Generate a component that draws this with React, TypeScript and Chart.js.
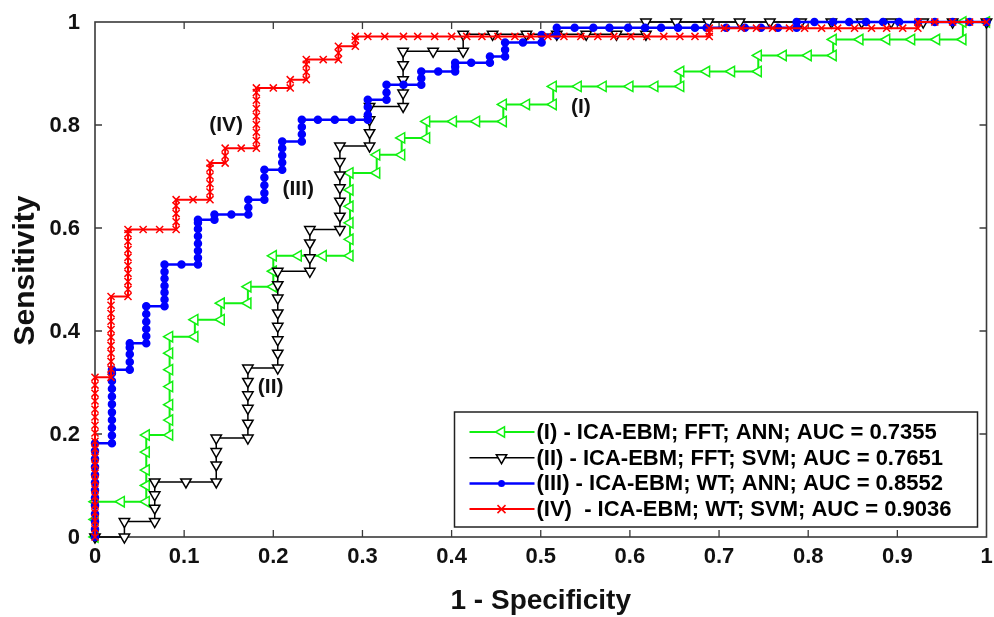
import React, { useEffect, useRef } from 'react';
import { Chart, registerables } from 'chart.js';

Chart.register(...registerables);

const xTickLabels = ['0', '0.1', '0.2', '0.3', '0.4', '0.5', '0.6', '0.7', '0.8', '0.9', '1'];
const yTickLabels = ['0', '0.2', '0.4', '0.6', '0.8', '1'];
const xTitle = '1 - Specificity';
const yTitle = 'Sensitivity';

const seriesNames = [
  '(I) - ICA-EBM; FFT; ANN; AUC = 0.7355',
  '(II) - ICA-EBM; FFT; SVM; AUC = 0.7651',
  '(III) - ICA-EBM; WT; ANN; AUC = 0.8552',
  '(IV)  - ICA-EBM; WT; SVM; AUC = 0.9036',
];

const curveTags = ['(I)', '(II)', '(III)', '(IV)'];
const curveTagX = [0.545, 0.197, 0.228, 0.147];
const curveTagY = [0.835, 0.29, 0.675, 0.8];

// (I) FFT + ANN  [1-specificity, sensitivity]
const pointsI = [
  [0, 0], [0, 0.034], [0, 0.0686], [0.0295, 0.0686], [0.0575, 0.0686], [0.0575, 0.1], [0.0575, 0.13],
  [0.0575, 0.165], [0.0575, 0.198], [0.0837, 0.198], [0.0837, 0.227], [0.0837, 0.257], [0.0837, 0.292],
  [0.0837, 0.325], [0.0837, 0.357], [0.0837, 0.389], [0.112, 0.389], [0.112, 0.422], [0.1416, 0.422],
  [0.1416, 0.454], [0.1715, 0.454], [0.1715, 0.486], [0.2, 0.486], [0.2, 0.516], [0.2, 0.546],
  [0.228, 0.546], [0.256, 0.546], [0.286, 0.546], [0.286, 0.578], [0.286, 0.61], [0.286, 0.642],
  [0.286, 0.674], [0.286, 0.707], [0.316, 0.707], [0.316, 0.742], [0.344, 0.742], [0.344, 0.775],
  [0.372, 0.775], [0.372, 0.807], [0.402, 0.807], [0.428, 0.807], [0.458, 0.807], [0.458, 0.84],
  [0.484, 0.84], [0.514, 0.84], [0.514, 0.875], [0.542, 0.875], [0.57, 0.875], [0.6, 0.875],
  [0.628, 0.875], [0.657, 0.875], [0.657, 0.904], [0.686, 0.904], [0.714, 0.904], [0.744, 0.904],
  [0.744, 0.935], [0.772, 0.935], [0.8, 0.935], [0.828, 0.935], [0.828, 0.966], [0.858, 0.966],
  [0.888, 0.966], [0.916, 0.966], [0.944, 0.966], [0.9735, 0.966], [0.9735, 1], [1, 1],
];

// (II) FFT + SVM
const pointsII = [
  [0, 0], [0.033, 0], [0.033, 0.03], [0.067, 0.03], [0.067, 0.056], [0.067, 0.082], [0.067, 0.107],
  [0.102, 0.107], [0.136, 0.107], [0.136, 0.14], [0.136, 0.166], [0.136, 0.192], [0.1715, 0.192],
  [0.1715, 0.221], [0.1715, 0.25], [0.1715, 0.276], [0.1715, 0.302], [0.1715, 0.328], [0.205, 0.328],
  [0.205, 0.357], [0.205, 0.383], [0.205, 0.409], [0.205, 0.435], [0.205, 0.464], [0.205, 0.49],
  [0.205, 0.516], [0.241, 0.516], [0.241, 0.542], [0.241, 0.571], [0.241, 0.597], [0.2747, 0.597],
  [0.2747, 0.623], [0.2747, 0.652], [0.2747, 0.678], [0.2747, 0.703], [0.2747, 0.729], [0.2747, 0.759],
  [0.308, 0.759], [0.308, 0.785], [0.308, 0.81], [0.308, 0.836], [0.3456, 0.836], [0.3456, 0.862],
  [0.3456, 0.888], [0.3456, 0.917], [0.3456, 0.943], [0.3793, 0.943], [0.413, 0.943], [0.413, 0.976],
  [0.446, 0.976], [0.484, 0.976], [0.518, 0.976], [0.551, 0.976], [0.585, 0.976], [0.618, 0.976],
  [0.618, 1], [0.652, 1], [0.688, 1], [0.723, 1], [0.757, 1], [0.792, 1], [0.826, 1], [0.86, 1],
  [0.893, 1], [0.929, 1], [0.962, 1], [1, 1],
];

// (III) WT + ANN
const pointsIII = [
  [0, 0], [0, 0.015], [0, 0.03], [0, 0.045], [0, 0.061], [0, 0.076], [0, 0.091], [0, 0.106], [0, 0.121],
  [0, 0.136], [0, 0.152], [0, 0.167], [0, 0.182], [0.019, 0.182], [0.019, 0.197], [0.019, 0.212],
  [0.019, 0.227], [0.019, 0.242], [0.019, 0.258], [0.019, 0.273], [0.019, 0.288], [0.019, 0.303],
  [0.019, 0.318], [0.019, 0.325], [0.039, 0.325], [0.039, 0.34], [0.039, 0.355], [0.039, 0.368],
  [0.039, 0.376], [0.0575, 0.376], [0.0575, 0.39], [0.0575, 0.404], [0.0575, 0.418], [0.0575, 0.433],
  [0.0575, 0.448], [0.078, 0.448], [0.078, 0.461], [0.078, 0.475], [0.078, 0.488], [0.078, 0.502],
  [0.078, 0.515], [0.078, 0.529], [0.097, 0.529], [0.1155, 0.529], [0.1155, 0.542], [0.1155, 0.556],
  [0.1155, 0.57], [0.1155, 0.584], [0.1155, 0.598], [0.1155, 0.61], [0.1155, 0.616], [0.134, 0.616],
  [0.134, 0.626], [0.153, 0.626], [0.172, 0.626], [0.172, 0.64], [0.172, 0.655], [0.19, 0.655],
  [0.19, 0.668], [0.19, 0.683], [0.19, 0.698], [0.19, 0.713], [0.21, 0.713], [0.21, 0.727],
  [0.21, 0.741], [0.21, 0.755], [0.21, 0.768], [0.232, 0.768], [0.232, 0.782], [0.232, 0.796],
  [0.232, 0.81], [0.25, 0.81], [0.269, 0.81], [0.288, 0.81], [0.306, 0.81], [0.306, 0.82],
  [0.306, 0.835], [0.306, 0.849], [0.327, 0.849], [0.327, 0.863], [0.327, 0.878], [0.346, 0.878],
  [0.366, 0.878], [0.366, 0.891], [0.366, 0.904], [0.385, 0.904], [0.404, 0.904], [0.404, 0.913],
  [0.404, 0.921], [0.422, 0.921], [0.443, 0.921], [0.443, 0.933], [0.46, 0.933], [0.46, 0.946],
  [0.46, 0.96], [0.48, 0.96], [0.501, 0.96], [0.501, 0.975], [0.518, 0.975], [0.518, 0.989],
  [0.538, 0.989], [0.559, 0.989], [0.577, 0.989], [0.598, 0.989], [0.617, 0.989], [0.635, 0.989],
  [0.654, 0.989], [0.673, 0.989], [0.686, 0.989], [0.708, 0.989], [0.729, 0.989], [0.747, 0.989],
  [0.766, 0.989], [0.787, 0.989], [0.787, 1], [0.807, 1], [0.828, 1], [0.846, 1], [0.865, 1],
  [0.884, 1], [0.902, 1], [0.923, 1], [0.942, 1], [0.962, 1], [0.981, 1], [1, 1],
];

// (IV) WT + SVM
const pointsIV = [
  [0, 0], [0, 0.016], [0, 0.031], [0, 0.047], [0, 0.062], [0, 0.078], [0, 0.093], [0, 0.109], [0, 0.124],
  [0, 0.14], [0, 0.155], [0, 0.171], [0, 0.186], [0, 0.202], [0, 0.217], [0, 0.233], [0, 0.248],
  [0, 0.264], [0, 0.279], [0, 0.295], [0, 0.31], [0.018, 0.31], [0.018, 0.326], [0.018, 0.341],
  [0.018, 0.357], [0.018, 0.372], [0.018, 0.388], [0.018, 0.403], [0.018, 0.419], [0.018, 0.434],
  [0.018, 0.45], [0.018, 0.467], [0.037, 0.467], [0.037, 0.481], [0.037, 0.496], [0.037, 0.512],
  [0.037, 0.527], [0.037, 0.543], [0.037, 0.558], [0.037, 0.574], [0.037, 0.589], [0.037, 0.597],
  [0.054, 0.597], [0.0725, 0.597], [0.091, 0.597], [0.091, 0.612], [0.091, 0.628], [0.091, 0.643],
  [0.091, 0.655], [0.11, 0.655], [0.129, 0.655], [0.129, 0.67], [0.129, 0.686], [0.129, 0.701],
  [0.129, 0.716], [0.129, 0.726], [0.146, 0.726], [0.146, 0.74], [0.146, 0.755], [0.164, 0.755],
  [0.181, 0.755], [0.181, 0.77], [0.181, 0.786], [0.181, 0.801], [0.181, 0.817], [0.181, 0.832],
  [0.181, 0.848], [0.181, 0.863], [0.181, 0.872], [0.2, 0.872], [0.219, 0.872], [0.219, 0.888],
  [0.237, 0.888], [0.237, 0.903], [0.237, 0.918], [0.237, 0.927], [0.256, 0.927], [0.273, 0.927],
  [0.273, 0.94], [0.273, 0.953], [0.292, 0.953], [0.292, 0.965], [0.292, 0.972], [0.306, 0.972],
  [0.325, 0.972], [0.346, 0.972], [0.362, 0.972], [0.381, 0.972], [0.4, 0.972], [0.417, 0.972],
  [0.434, 0.972], [0.452, 0.972], [0.471, 0.972], [0.489, 0.972], [0.508, 0.972], [0.526, 0.972],
  [0.545, 0.972], [0.564, 0.972], [0.582, 0.972], [0.601, 0.972], [0.619, 0.972], [0.638, 0.972],
  [0.656, 0.972], [0.673, 0.972], [0.689, 0.972], [0.689, 0.98], [0.689, 0.988], [0.706, 0.988],
  [0.725, 0.988], [0.742, 0.988], [0.76, 0.988], [0.779, 0.988], [0.796, 0.988], [0.815, 0.988],
  [0.833, 0.988], [0.852, 0.988], [0.871, 0.988], [0.888, 0.988], [0.906, 0.988], [0.923, 0.988],
  [0.923, 1], [0.942, 1], [0.962, 1], [0.981, 1], [1, 1],
];

const FONT = "'Liberation Sans', Arial, Helvetica, sans-serif";

type Style = { color: string; marker: string; rot: number; radius: number; width: number; fill: boolean };
const styles: Style[] = [
  { color: '#11f011', marker: 'triangle', rot: -90, radius: 6, width: 2, fill: false },
  { color: '#000000', marker: 'triangle', rot: 180, radius: 6, width: 1.5, fill: false },
  { color: '#0000ff', marker: 'circle', rot: 0, radius: 3.5, width: 2.5, fill: true },
  { color: '#ff0000', marker: 'crossRot', rot: 0, radius: 5, width: 2, fill: false },
];

function drawMarker(ctx: CanvasRenderingContext2D, s: Style, x: number, y: number) {
  ctx.save();
  ctx.strokeStyle = s.color;
  ctx.fillStyle = s.color;
  ctx.lineWidth = 1.5;
  ctx.beginPath();
  if (s.marker === 'circle') {
    ctx.arc(x, y, s.radius, 0, Math.PI * 2);
    ctx.fill();
  } else if (s.marker === 'triangle') {
    const r = s.radius;
    const rad = (s.rot * Math.PI) / 180;
    for (let k = 0; k < 3; k++) {
      const a = rad + (k * 2 * Math.PI) / 3;
      const px = x + Math.sin(a) * r;
      const py = y - Math.cos(a) * r;
      if (k === 0) ctx.moveTo(px, py);
      else ctx.lineTo(px, py);
    }
    ctx.closePath();
    ctx.fillStyle = '#ffffff';
    ctx.fill();
    ctx.stroke();
  } else {
    const r = s.radius * 0.8;
    ctx.moveTo(x - r, y - r);
    ctx.lineTo(x + r, y + r);
    ctx.moveTo(x + r, y - r);
    ctx.lineTo(x - r, y + r);
    ctx.stroke();
  }
  ctx.restore();
}

const framePlugin = {
  id: 'matlabFrame',
  beforeDatasetsDraw(chart: any) {
    const { ctx, chartArea: a, scales } = chart;
    ctx.save();
    ctx.strokeStyle = '#3a3a3a';
    ctx.lineWidth = 1.6;
    ctx.strokeRect(a.left, a.top, a.right - a.left, a.bottom - a.top);
    ctx.lineWidth = 1.3;
    ctx.beginPath();
    const tl = 7;
    for (let i = 1; i < xTickLabels.length - 1; i++) {
      const x = scales.x.getPixelForValue(i / 10);
      ctx.moveTo(x, a.bottom);
      ctx.lineTo(x, a.bottom - tl);
      ctx.moveTo(x, a.top);
      ctx.lineTo(x, a.top + tl);
    }
    for (let i = 1; i < yTickLabels.length - 1; i++) {
      const y = scales.y.getPixelForValue(i / 5);
      ctx.moveTo(a.left, y);
      ctx.lineTo(a.left + tl, y);
      ctx.moveTo(a.right, y);
      ctx.lineTo(a.right - tl, y);
    }
    ctx.stroke();
    // tick labels
    ctx.fillStyle = '#111';
    ctx.font = `bold 22px ${FONT}`;
    ctx.textBaseline = 'middle';
    ctx.textAlign = 'center';
    xTickLabels.forEach((t, i) => {
      ctx.fillText(t, scales.x.getPixelForValue(i / 10), a.bottom + 20);
    });
    ctx.textAlign = 'right';
    yTickLabels.forEach((t, i) => {
      ctx.fillText(t, a.left - 15, scales.y.getPixelForValue(i / 5) + 1);
    });
    ctx.restore();
  },
  afterDraw(chart: any) {
    const { ctx, chartArea: a, scales } = chart;
    ctx.save();
    ctx.fillStyle = '#111';
    ctx.textAlign = 'center';
    ctx.textBaseline = 'middle';
    // x-axis title
    ctx.font = `bold 28px ${FONT}`;
    ctx.fillText(xTitle, (a.left + a.right) / 2, 601);
    // y-axis title
    ctx.font = `bold 30px ${FONT}`;
    ctx.save();
    ctx.translate(26, (a.top + a.bottom) / 2 - 9);
    ctx.rotate(-Math.PI / 2);
    ctx.fillText(yTitle, 0, 0);
    ctx.restore();
    // curve tags
    ctx.font = `bold 21px ${FONT}`;
    curveTags.forEach((t, i) => {
      ctx.fillText(t, scales.x.getPixelForValue(curveTagX[i]), scales.y.getPixelForValue(curveTagY[i]));
    });
    // legend
    const boxW = 523;
    const boxH = 115;
    const bx = a.right - 9 - boxW;
    const by = a.bottom - 10 - boxH;
    ctx.fillStyle = '#ffffff';
    ctx.fillRect(bx, by, boxW, boxH);
    ctx.strokeStyle = '#222';
    ctx.lineWidth = 1.5;
    ctx.strokeRect(bx, by, boxW, boxH);
    ctx.font = `bold 22px ${FONT}`;
    ctx.textAlign = 'left';
    ctx.textBaseline = 'middle';
    seriesNames.forEach((name, i) => {
      const y = by + 20 + i * 25.7;
      const s = styles[i];
      ctx.strokeStyle = s.color;
      ctx.lineWidth = s.width;
      ctx.beginPath();
      ctx.moveTo(bx + 15, y);
      ctx.lineTo(bx + 80, y);
      ctx.stroke();
      drawMarker(ctx, s, bx + 47, y);
      ctx.fillStyle = '#000';
      ctx.fillText(name, bx + 82, y + 1);
    });
    ctx.restore();
  },
};

export default function App() {
  const ref = useRef<HTMLCanvasElement>(null);
  useEffect(() => {
    const all = [pointsI, pointsII, pointsIII, pointsIV];
    const drawOrder = [4, 3, 2, 1];
    const datasets = all.map((pts, i) => {
      const s = styles[i];
      return {
        label: seriesNames[i],
        data: pts.map((p) => ({ x: p[0], y: p[1] })),
        borderColor: s.color,
        backgroundColor: s.fill ? s.color : '#ffffff',
        borderWidth: s.width,
        pointStyle: s.marker,
        pointRotation: s.rot,
        pointRadius: s.radius,
        pointBorderWidth: 1.5,
        pointBorderColor: s.color,
        pointBackgroundColor: s.fill ? s.color : 'rgba(255,255,255,1)',
        tension: 0,
        order: drawOrder[i],
        clip: false as any,
      };
    });
    const chart = new Chart(ref.current!, {
      type: 'line',
      data: { datasets: datasets as any },
      options: {
        responsive: false,
        devicePixelRatio: 1,
        animation: false,
        layout: { padding: { top: 22, right: 7, left: 0, bottom: 0 } },
        plugins: { legend: { display: false }, tooltip: { enabled: false } },
        scales: {
          x: {
            type: 'linear',
            min: 0,
            max: 1,
            afterFit: (s: any) => {
              s.height = 80;
            },
            grid: { display: false, drawTicks: false },
            border: { display: false },
            ticks: { display: false, stepSize: 0.1 },
          },
          y: {
            type: 'linear',
            min: 0,
            max: 1,
            afterFit: (s: any) => {
              s.width = 95;
            },
            grid: { display: false, drawTicks: false },
            border: { display: false },
            ticks: { display: false, stepSize: 0.2 },
          },
        },
      } as any,
      plugins: [framePlugin],
    });
    return () => chart.destroy();
  }, []);
  return (
    <div style={{ position: 'fixed', left: 0, top: 0, width: 994, height: 617, background: '#ffffff' }}>
      <canvas ref={ref} width={994} height={617} style={{ display: 'block', width: 994, height: 617 }} />
    </div>
  );
}
